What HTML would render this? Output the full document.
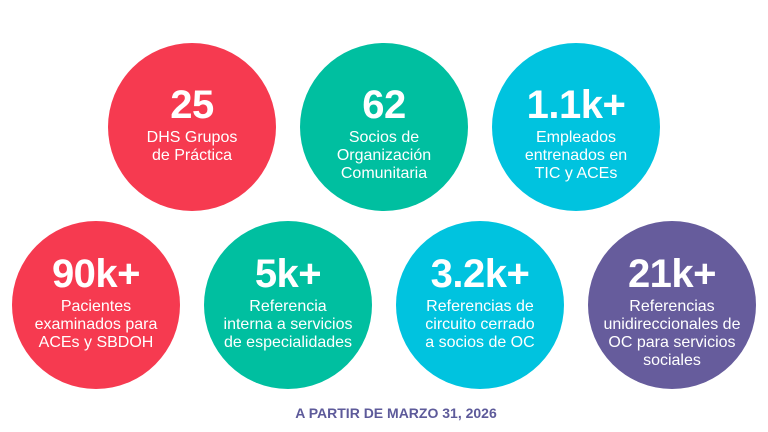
<!DOCTYPE html>
<html><head><meta charset="utf-8"><style>
body{margin:0;width:768px;height:432px;background:#fff;position:relative;overflow:hidden;font-family:"Liberation Sans",sans-serif}
.c{position:absolute;width:168px;height:168px;border-radius:50%;display:flex;flex-direction:column;align-items:center;justify-content:flex-start;box-sizing:border-box;padding-top:42px;color:#fff;text-align:center}
.bt{padding-top:33px}
.n{font-weight:bold;font-size:40px;line-height:40px;letter-spacing:-0.5px}
.l{font-size:16px;line-height:18px;margin-top:4px;white-space:nowrap}
.r{background:#f63a50}.g{background:#00bfa0}.b{background:#00c3df}.p{background:#665c9c}
.f{position:absolute;top:405px;left:12px;width:768px;text-align:center;color:#5d5a9a;font-weight:bold;font-size:14px}
</style></head><body>
<div class="c r" style="left:108px;top:43px"><div class="n">25</div><div class="l">DHS Grupos<br>de Práctica</div></div>
<div class="c g" style="left:300px;top:43px"><div class="n">62</div><div class="l">Socios de<br>Organización<br>Comunitaria</div></div>
<div class="c b" style="left:492px;top:43px"><div class="n">1.1k+</div><div class="l">Empleados<br>entrenados en<br>TIC y ACEs</div></div>
<div class="c r bt" style="left:12px;top:221px"><div class="n">90k+</div><div class="l">Pacientes<br>examinados para<br>ACEs y SBDOH</div></div>
<div class="c g bt" style="left:204px;top:221px"><div class="n">5k+</div><div class="l">Referencia<br>interna a servicios<br>de especialidades</div></div>
<div class="c b bt" style="left:396px;top:221px"><div class="n">3.2k+</div><div class="l">Referencias de<br>circuito cerrado<br>a socios de OC</div></div>
<div class="c p bt" style="left:588px;top:221px"><div class="n">21k+</div><div class="l">Referencias<br>unidireccionales de<br>OC para servicios<br>sociales</div></div>
<div class="f">A PARTIR DE MARZO 31, 2026</div>
</body></html>
